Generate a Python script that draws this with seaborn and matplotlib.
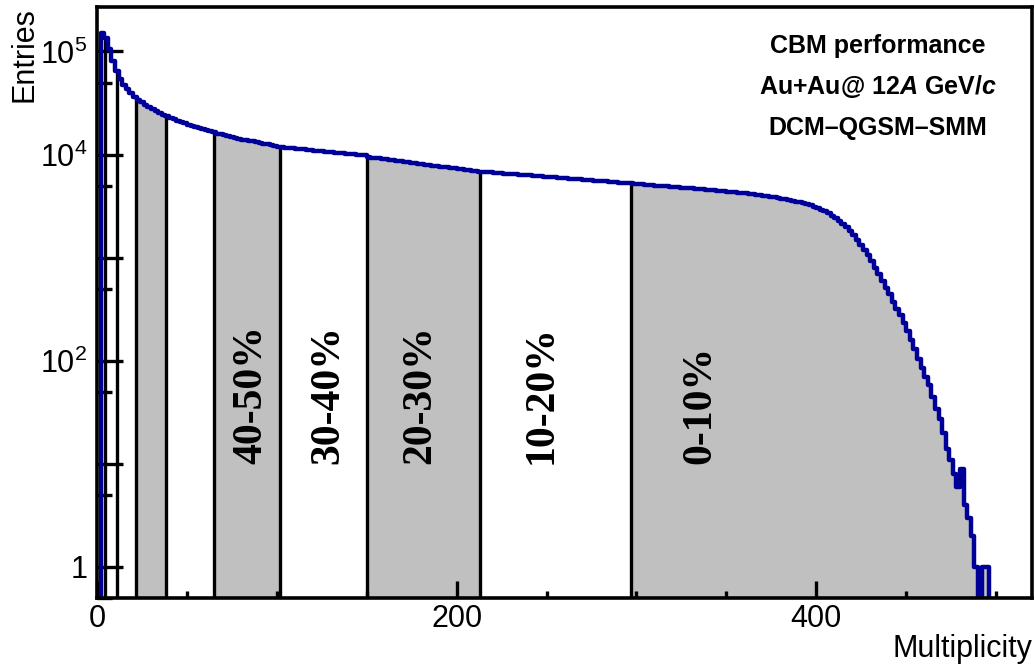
import numpy as np
import pandas as pd
import matplotlib
matplotlib.use("Agg")
import matplotlib.pyplot as plt
import seaborn as sns
from matplotlib.ticker import FixedLocator, FixedFormatter, NullFormatter

# ---------------- data ----------------
bin_width = 2
counts = [
    0, 150000, 135000, 105000, 80000, 64000, 54000, 47500, 43000, 39500,
    36500, 34000, 32000, 30200, 28800, 27500, 26200, 25200, 24300, 23500,
    22700, 22000, 21300, 20700, 20100, 19500, 19000, 18500, 18000, 17600,
    17200, 16800, 16400, 16000, 15700, 15400, 15100, 14800, 14500, 14300,
    14000, 13800, 13600, 13400, 13200, 13000, 12800, 12600, 12400, 12200,
    11900,
    11750, 11650, 11560, 11470, 11380, 11300, 11210, 11120, 11040, 10950,
    10870, 10780, 10700, 10620, 10540, 10460, 10380, 10300, 10220, 10140,
    10060, 9980, 9900, 9820,
    9450, 9350, 9260, 9160, 9060, 8970, 8880, 8780, 8690, 8600,
    8510, 8420, 8330, 8240, 8160, 8070, 7990, 7900, 7820, 7740,
    7660, 7580, 7500, 7420, 7340, 7260, 7190, 7110, 7040, 6960, 6890,
    6850, 6810, 6760, 6720, 6680, 6640, 6590, 6550, 6510, 6470,
    6430, 6390, 6350, 6310, 6270, 6230, 6190, 6150, 6110, 6070,
    6040, 6000, 5960, 5920, 5890, 5850, 5810, 5780, 5740, 5700,
    5670, 5630, 5600, 5560, 5530, 5490, 5460, 5420, 5390, 5350, 5320, 5290,
    5250, 5220, 5180, 5150, 5110, 5080, 5050, 5010, 4980, 4950,
    4910, 4880, 4850, 4820, 4780, 4750, 4720, 4690, 4660, 4630,
    4600, 4570, 4540, 4510, 4480,
    4440, 4410, 4380, 4350, 4310, 4280, 4240, 4200, 4160, 4120,
    4080, 4040, 3990, 3950, 3900, 3850, 3800, 3740, 3680,
    3620, 3560, 3500, 3430, 3360, 3290, 3210,
    3120, 3020, 2920, 2810, 2690, 2560, 2420,
    2280, 2130, 1980, 1820, 1660, 1500, 1340, 1190, 1050, 920,
    800, 690, 600, 510, 440, 375, 320, 275, 230, 195,
    160, 130, 105, 85, 70, 58, 45, 34, 27, 20,
    14, 11, 8, 6, 9, 4, 3, 2, 1, 0,
    1, 1, 0, 0,
    0, 0, 0, 0, 0, 0, 0, 0, 0, 0,
]

centrality_bounds = [4.45, 11.1, 21.6, 38.6, 65.2, 101.8, 150.2, 213.1, 297.1]
shaded_ranges = [(21.6, 38.6), (65.2, 101.8), (150.2, 213.1), (297.1, None)]
class_labels = ["40-50%", "30-40%", "20-30%", "10-20%", "0-10%"]

y_major = [1, 10, 100, 1e3, 1e4, 1e5]
y_major_labels = ["1", "", r"$10^{2}$", "", r"$10^{4}$", r"$10^{5}$"]
y_minor = [0.5, 5, 50, 500, 5000, 50000]
x_major = [0, 200, 400]
x_major_labels = ["0", "200", "400"]
x_minor = [50, 100, 150, 250, 300, 350, 450, 500]

info_lines = ["CBM performance",
              r"Au+Au@ 12$\mathit{A}$ GeV/$\mathit{c}$",
              "DCM\u2013QGSM\u2013SMM"]

# ---------------- layout ----------------
class_label_x = [86, 128.5, 180, 247.5, 335.5]
class_label_y = 10
info_x = 0.835
info_y = [0.934, 0.865, 0.795]
x_range = (0, 520)
y_range = (0.5, 2.7e5)

# ---------------- style ----------------
sns.set_theme(style="white")
plt.rcParams["font.family"] = ["Liberation Sans", "DejaVu Sans"]
plt.rcParams["mathtext.fontset"] = "custom"
plt.rcParams["mathtext.rm"] = "Liberation Sans"
plt.rcParams["mathtext.it"] = "Liberation Sans:italic:bold"
plt.rcParams["mathtext.bf"] = "Liberation Sans:bold"

fig = plt.figure(figsize=(10.35, 6.64), dpi=100)
ax = fig.add_axes([97 / 1035, 66 / 664, 935 / 1035, 591 / 664])

counts_arr = np.array(counts, dtype=float)
edges = np.arange(len(counts) + 1) * bin_width
centers = edges[:-1] + bin_width / 2
df = pd.DataFrame({"Multiplicity": centers, "Entries": counts_arr})


def height_at(x):
    idx = np.clip(np.searchsorted(edges, x, side="right") - 1, 0, len(counts) - 1)
    return counts_arr[idx]


ymin = y_range[0]
last_edge = edges[np.nonzero(counts_arr)[0][-1] + 1]
for a, b in shaded_ranges:
    b = last_edge if b is None else b
    inner = edges[(edges > a) & (edges < b)]
    xs = np.concatenate([[a], inner, [b]])
    ys = height_at(xs)
    ys[-1] = ys[-2]
    ax.fill_between(xs, ys, ymin, step="post", color="#c0c0c0", lw=0, zorder=1)

bounds = np.array(centrality_bounds)
ax.vlines(bounds, ymin, height_at(bounds), colors="black", lw=2.4, zorder=2)

sns.histplot(data=df, x="Multiplicity", weights="Entries", bins=edges.tolist(),
             element="step", fill=False, color="#000099", linewidth=3.2,
             ax=ax, zorder=3)

ax.set_yscale("log")
ax.set_xlim(*x_range)
ax.set_ylim(*y_range)
ax.set_axisbelow(False)

ax.yaxis.set_major_locator(FixedLocator(y_major))
ax.yaxis.set_major_formatter(FixedFormatter(y_major_labels))
ax.yaxis.set_minor_locator(FixedLocator(y_minor))
ax.yaxis.set_minor_formatter(NullFormatter())
ax.xaxis.set_major_locator(FixedLocator(x_major))
ax.xaxis.set_major_formatter(FixedFormatter(x_major_labels))
ax.xaxis.set_minor_locator(FixedLocator(x_minor))
ax.xaxis.set_minor_formatter(NullFormatter())

ax.tick_params(which="both", left=True, bottom=True, top=False, right=False)
ax.tick_params(axis="y", which="major", direction="in", length=19, width=2.4,
               labelsize=22, pad=7, color="black", labelcolor="black")
ax.tick_params(axis="y", which="minor", direction="in", length=10.5, width=2.4,
               color="black")
ax.tick_params(axis="x", which="major", direction="in", length=12, width=2.4,
               labelsize=22, pad=4, color="black", labelcolor="black")
ax.tick_params(axis="x", which="minor", direction="in", length=5, width=2.4,
               color="black")

for sp in ax.spines.values():
    sp.set_color("black")
    sp.set_linewidth(2.6)
    sp.set_zorder(5)

ax.set_xlabel("Multiplicity", loc="right", fontsize=22, labelpad=0, color="black")
ax.set_ylabel("Entries", loc="top", fontsize=22, labelpad=0, color="black")

for lab, xpos in zip(class_labels, class_label_x):
    ax.text(xpos, class_label_y, lab, rotation=90, ha="center", va="bottom",
            fontsize=30, fontweight="bold", family="Liberation Serif",
            color="black", zorder=4)

for line, yy in zip(info_lines, info_y):
    ax.text(info_x, yy, line, transform=ax.transAxes, ha="center", va="center",
            fontsize=18, fontweight="bold", color="black", zorder=4)

fig.savefig("out.png", dpi=100)
